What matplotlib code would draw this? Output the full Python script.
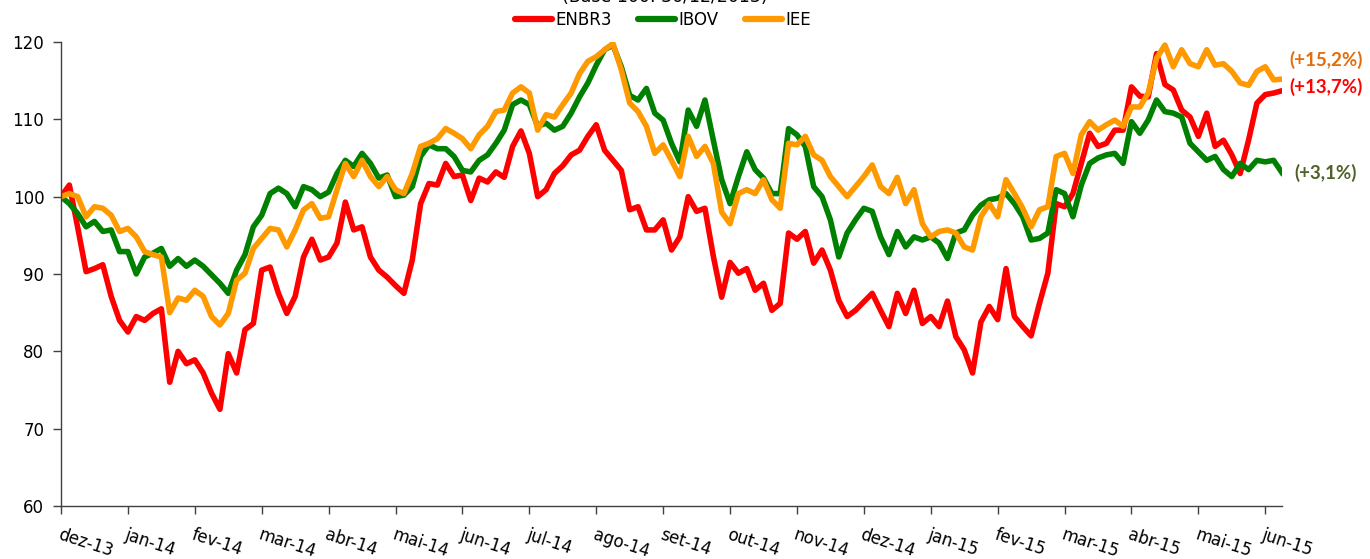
import matplotlib
matplotlib.use("Agg")
import matplotlib.pyplot as plt
import numpy as np

months = ["dez-13", "jan-14", "fev-14", "mar-14", "abr-14", "mai-14", "jun-14", "jul-14",
          "ago-14", "set-14", "out-14", "nov-14", "dez-14", "jan-15", "fev-15", "mar-15",
          "abr-15", "mai-15", "jun-15"]
points_per_month = 8

enbr3 = [100, 101.5, 96, 90.3, 90.7, 91.2, 87.1, 84.0, 82.5, 84.5,
         84.0, 84.9, 85.5, 76, 80, 78.4, 78.9, 77.2, 74.6, 72.5,
         79.7, 77.2, 82.8, 83.6, 90.5, 90.9, 87.5, 84.9, 87.1, 92.2,
         94.5, 91.8, 92.2, 94, 99.3, 95.7, 96.1, 92.2, 90.5, 89.6,
         88.5, 87.5, 91.8, 99.1, 101.7, 101.5, 104.3, 102.6, 102.8, 99.5,
         102.4, 101.9, 103.2, 102.5, 106.5, 108.5, 105.6, 100, 100.9, 103,
         104, 105.4, 106.0, 107.8, 109.3, 106.0, 104.7, 103.4, 98.3, 98.7,
         95.7, 95.7, 97, 93.1, 94.8, 100, 98.1, 98.5, 92.3, 87,
         91.5, 90.1, 90.7, 87.9, 88.8, 85.3, 86.2, 95.3, 94.5, 95.5,
         91.4, 93.1, 90.5, 86.6, 84.5, 85.3, 86.4, 87.5, 85.3, 83.2,
         87.5, 84.9, 87.9, 83.6, 84.5, 83.2, 86.5, 81.9, 80.2, 77.2,
         83.8, 85.8, 84.1, 90.7, 84.5, 83.2, 82, 86.2, 90.1, 99.1,
         98.7, 100.4, 104.3, 108.2, 106.5, 106.9, 108.6, 108.6, 114.2, 113,
         112.9, 118.5, 114.5, 113.8, 111.2, 110.3, 107.8, 110.8, 106.5, 107.3,
         105.4, 103, 107.3, 112.1, 113.2, 113.4, 113.7]

ibov = [100, 99.1, 97.8, 96.1, 96.8, 95.5, 95.7, 92.9, 92.9, 90.0,
        92.2, 92.7, 93.3, 91.0, 92.0, 91.0, 91.8, 91.0, 89.9, 88.8,
        87.5, 90.5, 92.5, 96.1, 97.6, 100.4, 101.1, 100.4, 98.7, 101.3,
        100.9, 100, 100.6, 103, 104.7, 103.9, 105.6, 104.3, 102.4, 102.8,
        100, 100.2, 101.3, 105.2, 106.7, 106.2, 106.2, 105.2, 103.4, 103.2,
        104.7, 105.4, 106.9, 108.6, 111.9, 112.5, 111.9, 109.1, 109.5, 108.6,
        109.1, 110.8, 112.9, 114.7, 117.0, 119, 119.6, 116.8, 113.1, 112.5,
        114.0, 110.8, 109.9, 106.9, 104.5, 111.2, 109.1, 112.5, 107.3, 102.2,
        99.1, 102.6, 105.8, 103.5, 102.4, 100.4, 100.4, 108.8, 108, 106.5,
        101.3, 100, 97, 92.2, 95.3, 97, 98.5, 98.1, 94.8, 92.5,
        95.5, 93.5, 94.8, 94.4, 94.8, 94, 92, 95.3, 95.7, 97.6,
        98.9, 99.6, 99.8, 100.4, 99.1, 97.4, 94.4, 94.6, 95.3, 100.9,
        100.4, 97.4, 101.5, 104.3, 105, 105.4, 105.6, 104.3, 109.7, 108.2,
        109.9, 112.5, 111, 110.8, 110.3, 106.9, 105.8, 104.7, 105.2, 103.5,
        102.6, 104.3, 103.5, 104.7, 104.5, 104.7, 103.1]

iee = [100, 100.4, 100, 97.4, 98.7, 98.5, 97.6, 95.5, 95.9, 94.8,
       92.9, 92.5, 92.2, 85, 86.9, 86.6, 87.9, 87.1, 84.5, 83.4,
       84.9, 89.2, 90.1, 93.3, 94.6, 95.9, 95.7, 93.5, 95.7, 98.3,
       99.1, 97.2, 97.4, 100.9, 104.3, 102.6, 104.7, 102.6, 101.3, 102.6,
       100.9, 100.4, 103, 106.5, 106.9, 107.5, 108.8, 108.2, 107.5, 106.2,
       108, 109.1, 111, 111.2, 113.4, 114.2, 113.4, 108.6, 110.6, 110.3,
       111.9, 113.4, 115.9, 117.5, 118.1, 119, 119.8, 116.4, 112.1, 111,
       109.1, 105.6, 106.7, 104.7, 102.6, 107.8, 105.2, 106.5, 104.3, 98,
       96.5, 100.4, 100.9, 100.4, 102.2, 99.6, 98.5, 106.9, 106.7, 107.8,
       105.4, 104.7, 102.6, 101.3, 100, 101.3, 102.6, 104.1, 101.3, 100.4,
       102.5, 99.1, 100.9, 96.5, 94.8, 95.5, 95.7, 95.3, 93.5, 93.1,
       97.4, 99.1, 97.4, 102.2, 100.4, 98.5, 96.1, 98.3, 98.7, 105.2,
       105.6, 103, 108, 109.7, 108.6, 109.3, 109.9, 109.1, 111.6, 111.6,
       113.4, 117.9, 119.6, 116.8, 119, 117.2, 116.8, 119, 117, 117.2,
       116.2, 114.7, 114.4, 116.2, 116.8, 115.1, 115.2]

end_labels = ["(+13,7%)", "(+3,1%)", "(+15,2%)"]
end_label_values = [114.2, 103.1, 117.7]

series = [("ENBR3", enbr3, "#FF0000", "#FF0000"),
          ("IBOV", ibov, "#008000", "#4F6228"),
          ("IEE", iee, "#FF9900", "#E46C0A")]

plt.rcParams['font.family'] = ['DejaVu Sans']

fig = plt.figure(figsize=(13.7, 5.59), dpi=100)
ax = fig.add_axes([61/1370, 1 - 506/559, (1282 - 61)/1370, (506 - 42)/559])

n = len(enbr3)
x = np.arange(n)
for name, vals, col, _ in series:
    ax.plot(x, vals, color=col, lw=4.0, label=name, solid_joinstyle='round')

ax.set_xlim(0, n - 1)
ax.set_ylim(60, 120)
ax.set_yticks(np.arange(60, 121, 10))
ax.set_xticks(np.arange(len(months)) * points_per_month)
ax.set_xticklabels(months, rotation=-18, ha='left', va='top', rotation_mode='anchor')
ax.tick_params(axis='both', labelsize=12, length=6, width=1, color='#404040', direction='out')
ax.tick_params(axis='x', pad=8)
ax.tick_params(axis='y', pad=6)
for s in ['top', 'right']:
    ax.spines[s].set_visible(False)
for s in ['left', 'bottom']:
    ax.spines[s].set_color('#404040')
    ax.spines[s].set_linewidth(1)

for (name, vals, col, lcol), lab, yv in zip(series, end_labels, end_label_values):
    ax.annotate(lab, xy=(1326/1370, 0), xycoords=('figure fraction', 'data'),
                xytext=(0, yv), textcoords=('offset points', 'data'),
                ha='center', va='center', fontsize=13.5, fontweight='bold',
                color=lcol, family=['Lato', 'DejaVu Sans'], annotation_clip=False)

leg = fig.legend(loc='center', bbox_to_anchor=(663/1370, 1 - 20/559), ncol=3, frameon=False,
                 fontsize=12, handlelength=2.2, handletextpad=0.2, columnspacing=1.6)
for h in leg.get_lines():
    h.set_linewidth(4.5)
    h.set_solid_capstyle('round')

fig.text(665/1370, 1 - 2/559, "(Base 100: 30/12/2013)", ha='center', va='baseline', fontsize=12.5)

fig.savefig("out.png", dpi=100)
